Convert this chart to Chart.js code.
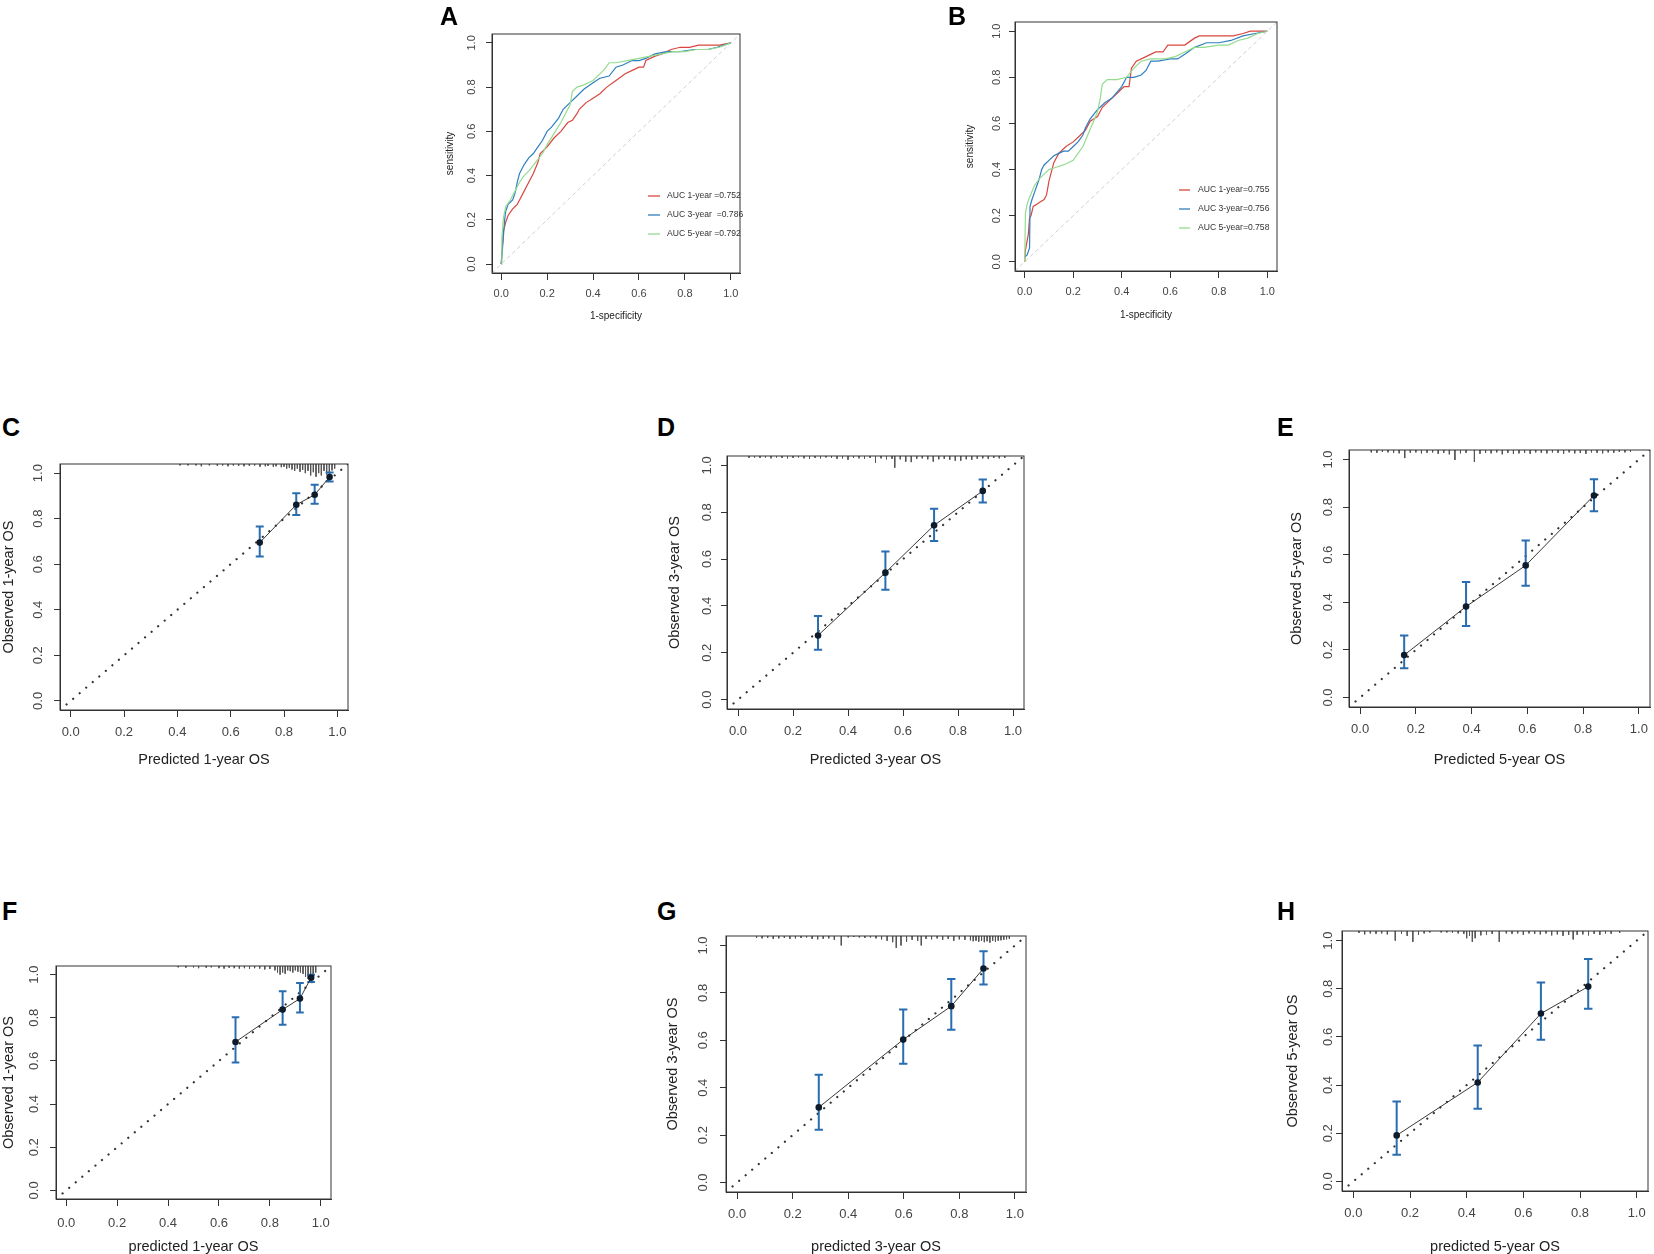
<!DOCTYPE html>
<html lang="en">
<head>
  <meta charset="UTF-8">
  <title>ROC and calibration curves</title>
  <script src="https://cdn.jsdelivr.net/npm/chart.js@4.4.3/dist/chart.umd.min.js"></script>
  <style>
    body { margin: 0; background: #fff; }
    #page { position: relative; width: 1654px; height: 1254px; overflow: hidden; font-family: "Liberation Sans", Arial, sans-serif; }
    #page canvas { position: absolute; }
    .tag { position: absolute; font-weight: bold; font-size: 25px; line-height: 1; color: #000; }
  </style>
</head>
<body>
  <div id="page"></div>

  <script>
    const tickVals = [0, 0.2, 0.4, 0.6, 0.8, 1.0];

    // ---- ROC, panel A ----
    const rocA1x = [0, 0.005, 0.01, 0.02, 0.03, 0.05, 0.07, 0.08, 0.1, 0.12, 0.14, 0.16, 0.17, 0.2, 0.23, 0.26, 0.29, 0.31, 0.33, 0.34, 0.37, 0.4, 0.43, 0.46, 0.5, 0.54, 0.58, 0.6, 0.62, 0.63, 0.67, 0.7, 0.74, 0.78, 0.82, 0.86, 0.9, 0.95, 1];
    const rocA1y = [0, 0.08, 0.15, 0.19, 0.22, 0.25, 0.27, 0.29, 0.33, 0.37, 0.41, 0.46, 0.5, 0.53, 0.57, 0.6, 0.64, 0.65, 0.68, 0.7, 0.73, 0.75, 0.77, 0.8, 0.83, 0.86, 0.88, 0.89, 0.89, 0.92, 0.94, 0.95, 0.97, 0.98, 0.98, 0.99, 0.99, 0.99, 1];
    const rocA3x = [0, 0.005, 0.01, 0.015, 0.02, 0.03, 0.05, 0.06, 0.07, 0.08, 0.1, 0.12, 0.14, 0.16, 0.18, 0.2, 0.22, 0.25, 0.27, 0.3, 0.33, 0.36, 0.4, 0.43, 0.47, 0.5, 0.53, 0.57, 0.6, 0.63, 0.67, 0.72, 0.78, 0.84, 0.9, 0.94, 0.97, 1];
    const rocA3y = [0, 0.06, 0.13, 0.2, 0.24, 0.27, 0.29, 0.32, 0.37, 0.41, 0.45, 0.48, 0.5, 0.53, 0.56, 0.6, 0.62, 0.66, 0.7, 0.73, 0.76, 0.79, 0.82, 0.84, 0.85, 0.89, 0.9, 0.92, 0.92, 0.93, 0.95, 0.96, 0.96, 0.97, 0.97, 0.98, 0.99, 1];
    const rocA5x = [0, 0.003, 0.01, 0.02, 0.04, 0.06, 0.08, 0.1, 0.12, 0.15, 0.18, 0.2, 0.23, 0.26, 0.29, 0.3, 0.31, 0.33, 0.36, 0.4, 0.43, 0.45, 0.47, 0.5, 0.55, 0.6, 0.65, 0.7, 0.75, 0.8, 0.85, 0.9, 0.95, 1];
    const rocA5y = [0, 0.12, 0.21, 0.26, 0.29, 0.33, 0.37, 0.4, 0.42, 0.46, 0.5, 0.54, 0.59, 0.64, 0.7, 0.72, 0.78, 0.8, 0.81, 0.83, 0.86, 0.88, 0.91, 0.91, 0.92, 0.93, 0.94, 0.95, 0.96, 0.96, 0.97, 0.97, 0.98, 1];
    const aucA = ['AUC 1-year =0.752', 'AUC 3-year  =0.786', 'AUC 5-year =0.792'];

    // ---- ROC, panel B ----
    const rocB1x = [0, 0.003, 0.015, 0.02, 0.026, 0.035, 0.05, 0.065, 0.08, 0.09, 0.1, 0.11, 0.12, 0.14, 0.17, 0.2, 0.23, 0.25, 0.27, 0.3, 0.32, 0.35, 0.38, 0.41, 0.43, 0.44, 0.46, 0.5, 0.54, 0.57, 0.59, 0.62, 0.66, 0.7, 0.72, 0.8, 0.86, 0.9, 0.93, 1];
    const rocB1y = [0, 0.05, 0.12, 0.19, 0.2, 0.24, 0.25, 0.26, 0.27, 0.29, 0.35, 0.39, 0.43, 0.47, 0.5, 0.52, 0.55, 0.57, 0.61, 0.63, 0.67, 0.7, 0.73, 0.76, 0.76, 0.84, 0.87, 0.89, 0.91, 0.91, 0.94, 0.94, 0.94, 0.97, 0.98, 0.98, 0.98, 0.99, 1, 1];
    const rocB3x = [0, 0.01, 0.02, 0.022, 0.03, 0.04, 0.05, 0.06, 0.07, 0.08, 0.1, 0.12, 0.14, 0.16, 0.18, 0.2, 0.22, 0.24, 0.25, 0.27, 0.3, 0.33, 0.36, 0.4, 0.42, 0.45, 0.48, 0.5, 0.52, 0.55, 0.6, 0.63, 0.66, 0.7, 0.75, 0.8, 0.85, 0.9, 0.95, 1];
    const rocB3y = [0.02, 0.03, 0.06, 0.24, 0.27, 0.3, 0.33, 0.36, 0.4, 0.42, 0.44, 0.46, 0.47, 0.48, 0.48, 0.5, 0.52, 0.55, 0.58, 0.62, 0.66, 0.69, 0.71, 0.76, 0.8, 0.8, 0.81, 0.83, 0.87, 0.87, 0.88, 0.88, 0.9, 0.93, 0.95, 0.95, 0.96, 0.98, 0.99, 1];
    const rocB5x = [0, 0.003, 0.01, 0.02, 0.04, 0.06, 0.08, 0.1, 0.13, 0.16, 0.2, 0.22, 0.24, 0.26, 0.28, 0.3, 0.31, 0.32, 0.34, 0.38, 0.42, 0.45, 0.48, 0.52, 0.58, 0.62, 0.66, 0.7, 0.74, 0.8, 0.84, 0.88, 0.92, 0.96, 1];
    const rocB5y = [0, 0.21, 0.25, 0.28, 0.33, 0.36, 0.38, 0.4, 0.41, 0.42, 0.44, 0.47, 0.5, 0.55, 0.6, 0.65, 0.7, 0.77, 0.79, 0.79, 0.8, 0.84, 0.87, 0.88, 0.88, 0.89, 0.91, 0.93, 0.93, 0.94, 0.94, 0.96, 0.97, 0.99, 1];
    const aucB = ['AUC 1-year=0.755', 'AUC 3-year=0.756', 'AUC 5-year=0.758'];

    // ---- calibration panels: predicted, observed, CI low / high, rug ----
    const calCx = [0.709, 0.846, 0.915, 0.971];
    const calCy = [0.695, 0.861, 0.905, 0.983];
    const calClo = [0.634, 0.816, 0.865, 0.963];
    const calChi = [0.766, 0.912, 0.949, 1.003];
    const rugCx = [0.41, 0.44, 0.47, 0.49, 0.52, 0.55, 0.57, 0.59, 0.61, 0.63, 0.65, 0.67, 0.69, 0.71, 0.73, 0.74, 0.76, 0.77, 0.79, 0.8, 0.81, 0.82, 0.83, 0.84, 0.85, 0.86, 0.87, 0.88, 0.89, 0.9, 0.91, 0.92, 0.93, 0.94, 0.95, 0.96, 0.97, 0.98, 0.99];
    const rugCh = [0.006, 0.006, 0.006, 0.01, 0.006, 0.008, 0.006, 0.01, 0.006, 0.008, 0.01, 0.008, 0.006, 0.012, 0.01, 0.008, 0.012, 0.01, 0.014, 0.012, 0.02, 0.016, 0.024, 0.03, 0.02, 0.034, 0.026, 0.04, 0.03, 0.05, 0.036, 0.056, 0.04, 0.05, 0.03, 0.046, 0.036, 0.028, 0.02];

    const calDx = [0.291, 0.536, 0.713, 0.89];
    const calDy = [0.274, 0.542, 0.744, 0.891];
    const calDlo = [0.213, 0.469, 0.677, 0.842];
    const calDhi = [0.357, 0.632, 0.815, 0.94];
    const rugDx = [0.04, 0.06, 0.08, 0.1, 0.12, 0.14, 0.16, 0.18, 0.2, 0.22, 0.24, 0.26, 0.28, 0.3, 0.32, 0.34, 0.36, 0.38, 0.4, 0.42, 0.44, 0.46, 0.48, 0.5, 0.52, 0.54, 0.56, 0.57, 0.59, 0.61, 0.63, 0.65, 0.67, 0.69, 0.71, 0.73, 0.75, 0.77, 0.79, 0.81, 0.83, 0.85, 0.87, 0.89, 0.91, 0.93, 0.95, 0.97];
    const rugDh = [0.008, 0.006, 0.008, 0.006, 0.01, 0.006, 0.008, 0.01, 0.008, 0.006, 0.01, 0.012, 0.008, 0.01, 0.006, 0.008, 0.012, 0.01, 0.016, 0.008, 0.01, 0.012, 0.008, 0.03, 0.01, 0.014, 0.012, 0.05, 0.014, 0.024, 0.026, 0.012, 0.01, 0.014, 0.024, 0.014, 0.012, 0.016, 0.02, 0.02, 0.014, 0.016, 0.012, 0.01, 0.012, 0.008, 0.01, 0.008];

    const calEx = [0.158, 0.38, 0.594, 0.839];
    const calEy = [0.178, 0.382, 0.555, 0.849];
    const calElo = [0.123, 0.30, 0.47, 0.783];
    const calEhi = [0.26, 0.485, 0.66, 0.917];
    const rugEx = [0.04, 0.06, 0.08, 0.1, 0.12, 0.14, 0.16, 0.18, 0.2, 0.22, 0.24, 0.26, 0.28, 0.3, 0.32, 0.34, 0.36, 0.38, 0.41, 0.43, 0.45, 0.47, 0.49, 0.51, 0.53, 0.55, 0.57, 0.59, 0.61, 0.63, 0.65, 0.67, 0.69, 0.71, 0.73, 0.75, 0.77, 0.79, 0.81, 0.83, 0.85, 0.87, 0.89, 0.91, 0.93, 0.95, 0.97];
    const rugEh = [0.01, 0.012, 0.008, 0.01, 0.012, 0.014, 0.034, 0.012, 0.01, 0.014, 0.012, 0.01, 0.016, 0.012, 0.018, 0.042, 0.014, 0.012, 0.05, 0.016, 0.012, 0.014, 0.01, 0.018, 0.012, 0.016, 0.014, 0.012, 0.016, 0.01, 0.012, 0.014, 0.01, 0.012, 0.016, 0.01, 0.014, 0.012, 0.016, 0.01, 0.012, 0.014, 0.01, 0.012, 0.008, 0.01, 0.008];

    const calFx = [0.665, 0.85, 0.918, 0.962];
    const calFy = [0.688, 0.838, 0.889, 0.986];
    const calFlo = [0.593, 0.768, 0.824, 0.966];
    const calFhi = [0.803, 0.923, 0.961, 1.0];
    const rugFx = [0.44, 0.47, 0.5, 0.52, 0.55, 0.57, 0.6, 0.62, 0.64, 0.66, 0.68, 0.7, 0.72, 0.74, 0.76, 0.78, 0.8, 0.82, 0.83, 0.84, 0.85, 0.86, 0.87, 0.88, 0.89, 0.9, 0.91, 0.92, 0.93, 0.94, 0.95, 0.96, 0.97, 0.98];
    const rugFh = [0.006, 0.008, 0.006, 0.01, 0.008, 0.006, 0.01, 0.012, 0.008, 0.01, 0.012, 0.01, 0.014, 0.01, 0.012, 0.016, 0.014, 0.02, 0.03, 0.04, 0.03, 0.036, 0.02, 0.024, 0.03, 0.02, 0.026, 0.03, 0.036, 0.05, 0.06, 0.04, 0.05, 0.03];

    const calGx = [0.294, 0.598, 0.771, 0.887];
    const calGy = [0.317, 0.603, 0.744, 0.903];
    const calGlo = [0.223, 0.501, 0.645, 0.835];
    const calGhi = [0.455, 0.73, 0.859, 0.976];
    const rugGx = [0.07, 0.09, 0.11, 0.13, 0.15, 0.17, 0.19, 0.21, 0.23, 0.25, 0.27, 0.29, 0.31, 0.33, 0.35, 0.375, 0.4, 0.42, 0.44, 0.46, 0.48, 0.5, 0.52, 0.54, 0.56, 0.573, 0.59, 0.61, 0.63, 0.65, 0.663, 0.68, 0.7, 0.72, 0.74, 0.76, 0.78, 0.8, 0.82, 0.84, 0.85, 0.86, 0.87, 0.88, 0.89, 0.9, 0.91, 0.92, 0.93, 0.94, 0.95, 0.96, 0.97, 0.98];
    const rugGh = [0.008, 0.01, 0.008, 0.012, 0.01, 0.008, 0.012, 0.01, 0.008, 0.006, 0.012, 0.014, 0.012, 0.01, 0.016, 0.04, 0.006, 0.004, 0.006, 0.008, 0.006, 0.01, 0.014, 0.02, 0.026, 0.05, 0.04, 0.024, 0.016, 0.02, 0.04, 0.012, 0.014, 0.01, 0.016, 0.012, 0.02, 0.014, 0.016, 0.018, 0.022, 0.02, 0.024, 0.02, 0.026, 0.022, 0.028, 0.02, 0.024, 0.02, 0.018, 0.016, 0.014, 0.012];

    const calHx = [0.153, 0.439, 0.662, 0.829];
    const calHy = [0.191, 0.411, 0.697, 0.809];
    const calHlo = [0.111, 0.302, 0.588, 0.717];
    const calHhi = [0.332, 0.564, 0.826, 0.924];
    const rugHx = [0.02, 0.04, 0.06, 0.08, 0.1, 0.12, 0.148, 0.17, 0.19, 0.21, 0.23, 0.25, 0.27, 0.31, 0.33, 0.35, 0.37, 0.39, 0.4, 0.41, 0.42, 0.43, 0.45, 0.47, 0.49, 0.515, 0.54, 0.56, 0.58, 0.6, 0.62, 0.64, 0.66, 0.68, 0.7, 0.72, 0.74, 0.76, 0.776, 0.79, 0.81, 0.83, 0.85, 0.87, 0.89, 0.91, 0.94];
    const rugHh = [0.008, 0.014, 0.01, 0.012, 0.01, 0.014, 0.04, 0.012, 0.02, 0.045, 0.016, 0.01, 0.006, 0.006, 0.006, 0.008, 0.01, 0.012, 0.03, 0.02, 0.045, 0.03, 0.018, 0.016, 0.012, 0.045, 0.01, 0.012, 0.01, 0.016, 0.01, 0.012, 0.014, 0.01, 0.018, 0.014, 0.02, 0.016, 0.035, 0.016, 0.014, 0.018, 0.012, 0.016, 0.01, 0.012, 0.008];

    const FONT = '"Liberation Sans", Arial, sans-serif';
    const rocColors = ['#d9463e', '#2f7fbf', '#93dc8f'];
    const ciColor = '#2a6db0';
    const LO = -0.04, HI = 1.04;

    const page = document.getElementById('page');

    // box, y tick labels (rotated as in R), axis titles, legend
    const rFrame = {
      id: 'rFrame',
      afterDraw(chart, args, o) {
        const { ctx, chartArea: a } = chart;
        ctx.save();
        ctx.strokeStyle = '#333';
        ctx.lineWidth = 1;
        ctx.strokeRect(a.left, a.top, a.right - a.left, a.bottom - a.top);

        ctx.fillStyle = '#444';
        ctx.font = o.tickSize + 'px ' + FONT;
        ctx.textAlign = 'center';
        ctx.textBaseline = 'middle';
        tickVals.forEach(v => {
          ctx.save();
          ctx.translate(o.yLabX, chart.scales.y.getPixelForValue(v));
          ctx.rotate(-Math.PI / 2);
          ctx.fillText(v.toFixed(1), 0, 0);
          ctx.restore();
        });

        ctx.fillStyle = '#222';
        ctx.font = o.titleSize + 'px ' + FONT;
        ctx.fillText(o.xTitle, chart.scales.x.getPixelForValue(0.5), o.xTitleY);
        ctx.save();
        ctx.translate(o.yTitleX, (a.top + a.bottom) / 2);
        ctx.rotate(-Math.PI / 2);
        ctx.fillText(o.yTitle, 0, 0);
        ctx.restore();

        if (o.legend) {
          ctx.font = '8.6px ' + FONT;
          ctx.textAlign = 'left';
          o.legend.labels.forEach((t, i) => {
            const y = o.legend.y[i];
            ctx.strokeStyle = rocColors[i];
            ctx.lineWidth = 1.3;
            ctx.beginPath();
            ctx.moveTo(o.legend.x0, y);
            ctx.lineTo(o.legend.x1, y);
            ctx.stroke();
            ctx.fillStyle = '#333';
            ctx.fillText(t, o.legend.tx, y);
          });
        }
        ctx.restore();
      }
    };

    function pts(xs, ys) {
      return xs.map((x, i) => ({ x: x, y: ys[i] }));
    }

    function segs(list) {
      const out = [];
      list.forEach(s => { out.push({ x: s[0], y: s[1] }, { x: s[2], y: s[3] }, { x: s[2], y: null }); });
      return out;
    }

    function line(data, color, width, extra) {
      return Object.assign({ type: 'line', data: data, borderColor: color, borderWidth: width,
        pointRadius: 0, tension: 0, fill: false, spanGaps: false }, extra || {});
    }

    function tag(letter, x, y) {
      const d = document.createElement('div');
      d.className = 'tag';
      d.textContent = letter;
      d.style.left = x + 'px';
      d.style.top = y + 'px';
      page.appendChild(d);
    }

    // cv: canvas rect on page, box: plot box on page, t: text settings (page coords)
    function panel(cv, box, datasets, t) {
      const c = document.createElement('canvas');
      c.width = cv.w; c.height = cv.h;
      c.style.left = cv.x + 'px'; c.style.top = cv.y + 'px';
      c.style.width = cv.w + 'px'; c.style.height = cv.h + 'px';
      page.appendChild(c);

      const yW = box.l - cv.x, xH = cv.y + cv.h - box.b;
      const axis = {
        type: 'linear', min: LO, max: HI,
        afterBuildTicks: s => { s.ticks = tickVals.map(v => ({ value: v })); },
        grid: { display: true, drawOnChartArea: false, drawTicks: true, tickLength: 7, color: '#333', lineWidth: 1 },
        border: { display: true, color: '#333', width: 1 }
      };
      const legend = t.legend ? {
        labels: t.legend.labels, y: t.legend.y.map(v => v - cv.y),
        x0: t.legend.x0 - cv.x, x1: t.legend.x1 - cv.x, tx: t.legend.tx - cv.x
      } : null;

      new Chart(c, {
        type: 'line',
        data: { datasets: datasets },
        options: {
          responsive: false,
          animation: false,
          events: [],
          layout: { padding: { left: 0, bottom: 0, top: box.t - cv.y, right: cv.x + cv.w - box.r } },
          scales: {
            x: Object.assign({}, axis, {
              position: 'bottom',
              afterFit: s => { s.height = xH; s.paddingLeft = 0; s.paddingRight = 0; },
              ticks: { autoSkip: false, maxRotation: 0, padding: t.xPad, color: '#444',
                font: { size: t.tickSize, family: FONT }, callback: v => Number(v).toFixed(1) }
            }),
            y: Object.assign({}, axis, {
              position: 'left',
              grid: Object.assign({}, axis.grid, { tickLength: 6 }),
              afterFit: s => { s.width = yW; s.paddingTop = 0; s.paddingBottom = 0; },
              ticks: { display: false }
            })
          },
          plugins: {
            legend: { display: false },
            tooltip: { enabled: false },
            rFrame: {
              tickSize: t.tickSize, titleSize: t.titleSize,
              yLabX: t.yLabX - cv.x, yTitleX: t.yTitleX - cv.x, xTitleY: t.xTitleY - cv.y,
              xTitle: t.xTitle, yTitle: t.yTitle, legend: legend
            }
          }
        },
        plugins: [rFrame]
      });
    }

    function rocSets(curves) {
      const sets = curves.map((cu, i) => line(pts(cu[0], cu[1]), rocColors[i], 1.2));
      sets.reverse();  // 5-year drawn on top
      sets.push(line([{ x: LO, y: LO }, { x: HI, y: HI }], '#cfcfcf', 1, { borderDash: [4, 3] }));
      return sets;
    }

    function calSets(xs, ys, lo, hi, rx, rh) {
      const bars = segs(xs.map((x, i) => [x, lo[i], x, hi[i]]));
      const caps = segs([].concat(...xs.map((x, i) => [[x - 0.015, lo[i], x + 0.015, lo[i]], [x - 0.015, hi[i], x + 0.015, hi[i]]])));
      const rug = segs(rx.map((x, i) => [x, HI, x, HI - rh[i]]));
      return [
        line(pts(xs, ys), '#222', 0.9, { pointRadius: 3.3, pointBackgroundColor: '#0d1b2a', pointBorderWidth: 0 }),
        line(bars, ciColor, 2),
        line(caps, ciColor, 2),
        line([{ x: LO, y: LO }, { x: HI, y: HI }], '#333', 2.2, { borderDash: [0.1, 8.5], borderCapStyle: 'round' }),
        line(rug, '#555', 1)
      ];
    }

    // ---- top row: ROC ----
    panel({ x: 425, y: 20, w: 325, h: 310 }, { l: 492, t: 34, r: 740, b: 273 },
      rocSets([[rocA1x, rocA1y], [rocA3x, rocA3y], [rocA5x, rocA5y]]),
      { tickSize: 11, titleSize: 10, xPad: 7, yLabX: 472, yTitleX: 450, xTitleY: 316,
        xTitle: '1-specificity', yTitle: 'sensitivity',
        legend: { labels: aucA, y: [196, 215, 234], x0: 648, x1: 660, tx: 667 } });
    tag('A', 440, 4);

    panel({ x: 940, y: 12, w: 345, h: 318 }, { l: 1015, t: 22, r: 1277, b: 271 },
      rocSets([[rocB1x, rocB1y], [rocB3x, rocB3y], [rocB5x, rocB5y]]),
      { tickSize: 11, titleSize: 10, xPad: 7, yLabX: 997, yTitleX: 970, xTitleY: 315,
        xTitle: '1-specificity', yTitle: 'sensitivity',
        legend: { labels: aucB, y: [190, 209, 228], x0: 1179, x1: 1190, tx: 1198 } });
    tag('B', 948, 4);

    // ---- middle row: calibration, training set ----
    panel({ x: 0, y: 450, w: 360, h: 330 }, { l: 60, t: 464, r: 348, b: 710 },
      calSets(calCx, calCy, calClo, calChi, rugCx, rugCh),
      { tickSize: 13, titleSize: 14.5, xPad: 8, yLabX: 38, yTitleX: 9, xTitleY: 760,
        xTitle: 'Predicted 1-year OS', yTitle: 'Observed 1-year OS' });
    tag('C', 2, 415);

    panel({ x: 660, y: 445, w: 375, h: 335 }, { l: 727, t: 456, r: 1024, b: 709 },
      calSets(calDx, calDy, calDlo, calDhi, rugDx, rugDh),
      { tickSize: 13, titleSize: 14.5, xPad: 8, yLabX: 707, yTitleX: 675, xTitleY: 760,
        xTitle: 'Predicted 3-year OS', yTitle: 'Observed 3-year OS' });
    tag('D', 657, 415);

    panel({ x: 1280, y: 440, w: 374, h: 340 }, { l: 1349, t: 450, r: 1650, b: 707 },
      calSets(calEx, calEy, calElo, calEhi, rugEx, rugEh),
      { tickSize: 13, titleSize: 14.5, xPad: 8, yLabX: 1328, yTitleX: 1297, xTitleY: 760,
        xTitle: 'Predicted 5-year OS', yTitle: 'Observed 5-year OS' });
    tag('E', 1277, 415);

    // ---- bottom row: calibration, validation set ----
    panel({ x: 0, y: 950, w: 345, h: 304 }, { l: 56, t: 966, r: 331, b: 1199 },
      calSets(calFx, calFy, calFlo, calFhi, rugFx, rugFh),
      { tickSize: 13, titleSize: 14.5, xPad: 10, yLabX: 34, yTitleX: 9, xTitleY: 1247,
        xTitle: 'predicted 1-year OS', yTitle: 'Observed 1-year OS' });
    tag('F', 2, 899);

    panel({ x: 660, y: 925, w: 375, h: 329 }, { l: 726, t: 936, r: 1026, b: 1192 },
      calSets(calGx, calGy, calGlo, calGhi, rugGx, rugGh),
      { tickSize: 13, titleSize: 14.5, xPad: 8, yLabX: 703, yTitleX: 673, xTitleY: 1247,
        xTitle: 'predicted 3-year OS', yTitle: 'Observed 3-year OS' });
    tag('G', 657, 899);

    panel({ x: 1280, y: 920, w: 374, h: 334 }, { l: 1342, t: 931, r: 1648, b: 1191 },
      calSets(calHx, calHy, calHlo, calHhi, rugHx, rugHh),
      { tickSize: 13, titleSize: 14.5, xPad: 8, yLabX: 1328, yTitleX: 1293, xTitleY: 1247,
        xTitle: 'predicted 5-year OS', yTitle: 'Observed 5-year OS' });
    tag('H', 1277, 899);
  </script>
</body>
</html>
